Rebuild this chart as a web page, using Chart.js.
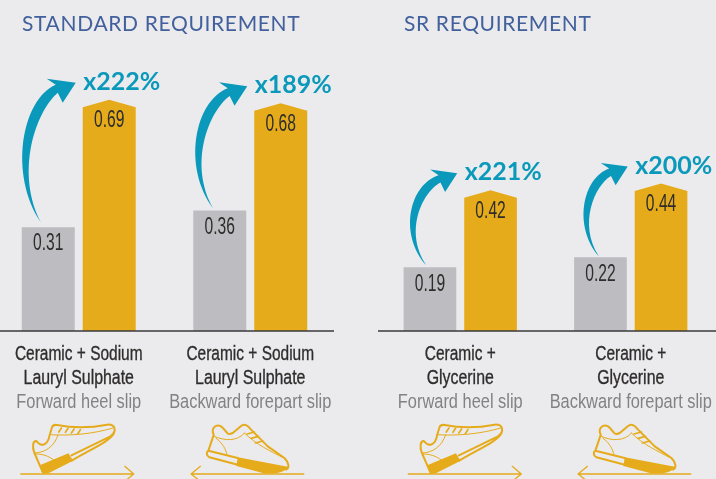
<!DOCTYPE html>
<html lang="en">
<head>
    <meta charset="UTF-8">
    <title>Slip requirement</title>
    <style>
        html, body { margin: 0; width: 716px; height: 479px; overflow: hidden; background: #ebebee; }
        canvas { position: absolute; top: 0; }
        #leftChart { left: -7px; }
        #rightChart { left: 375px; }
    </style>
</head>
<body>
    <canvas id="leftChart" width="343" height="479"></canvas>
    <canvas id="rightChart" width="341" height="479"></canvas>
<script src="https://cdn.jsdelivr.net/npm/chart.js@4/dist/chart.umd.min.js"></script>
<script>
    const standardCategories = [["Ceramic + Sodium", "Lauryl Sulphate"], ["Ceramic + Sodium", "Lauryl Sulphate"]];
    const srCategories = [["Ceramic +", "Glycerine"], ["Ceramic +", "Glycerine"]];
    const slipTypes = ["Forward heel slip", "Backward forepart slip"];

    const standardBefore = [0.31, 0.36];
    const standardAfter = [0.69, 0.68];
    const srBefore = [0.19, 0.22];
    const srAfter = [0.42, 0.44];

    const standardGain = ["x222%", "x189%"];
    const srGain = ["x221%", "x200%"];

    const GREY = "#bdbcc1";
    const GOLD = "#e5ab1a";
    const TEAL = "#0a99ba";

    function drawPeakBars(ctx, meta) {
        ctx.fillStyle = GOLD;
        meta.data.forEach(function(bar){
            const half = bar.width / 2;
            ctx.beginPath();
            ctx.moveTo(bar.x - half, bar.base);
            ctx.lineTo(bar.x - half, bar.y + 7.5);
            ctx.lineTo(bar.x, bar.y);
            ctx.lineTo(bar.x + half, bar.y + 7.5);
            ctx.lineTo(bar.x + half, bar.base);
            ctx.closePath();
            ctx.fill();
        });
    }

    // no condensed face installed, so squeeze Liberation Sans sideways
    function narrowText(ctx, text, x, y, size, squeeze, color, heavy) {
        ctx.save();
        ctx.translate(x, y);
        ctx.scale(squeeze, 1);
        ctx.font = size + 'px "Liberation Sans"';
        ctx.textAlign = "center";
        ctx.textBaseline = "middle";
        ctx.fillStyle = color;
        ctx.fillText(text, 0, 0);
        if (heavy) {
            ctx.strokeStyle = color;
            ctx.lineWidth = 0.35;
            ctx.strokeText(text, 0, 0);
        }
        ctx.restore();
    }

    // curved arrow, shape taken from the first one and stretched to fit
    function drawArrow(ctx, tx, ty, px, py) {
        const sx = (px - tx) / 34;
        const sy = (ty - py) / 139;
        const hs = 0.8 + 0.2 * sy;
        const X = function(v){ return tx + v * sx; };
        const Y = function(v){ return ty - v * sy; };
        ctx.fillStyle = TEAL;
        ctx.beginPath();
        ctx.moveTo(tx, ty);
        ctx.bezierCurveTo(X(-31), Y(47), X(-19), Y(122), px - 20 * hs, py + 2 * hs);
        ctx.lineTo(px - 29 * hs, py - 4 * hs);
        ctx.lineTo(px, py);
        ctx.lineTo(px - 13 * hs, py + 20 * hs);
        ctx.lineTo(px - 18 * hs, py + 10 * hs);
        ctx.bezierCurveTo(X(-5), Y(110), X(-25), Y(50), tx, ty);
        ctx.closePath();
        ctx.fill();
    }

    // shoes are traced in the zoomed crop, 3 units to a pixel
    function drawForwardShoe(ctx) {
        ctx.lineWidth = 4;
        ctx.beginPath();
        ctx.moveTo(3, 168); ctx.lineTo(342, 168);
        ctx.moveTo(315, 145); ctx.lineTo(342, 168); ctx.lineTo(315, 190);
        ctx.stroke();

        ctx.lineWidth = 6;
        ctx.beginPath();
        ctx.moveTo(68, 160);
        ctx.lineTo(44, 105);
        ctx.bezierCurveTo(36, 85, 40, 68, 50, 69);
        ctx.bezierCurveTo(62, 86, 84, 86, 90, 50);
        ctx.lineTo(97, 27);
        ctx.bezierCurveTo(100, 20, 106, 20, 112, 21);
        ctx.bezierCurveTo(160, 30, 220, 28, 262, 20);
        ctx.bezierCurveTo(288, 18, 292, 40, 272, 55);
        ctx.lineTo(155, 112);
        ctx.moveTo(283, 45);
        ctx.bezierCurveTo(270, 70, 220, 90, 156, 128);
        ctx.stroke();

        ctx.lineWidth = 3;
        ctx.beginPath();
        ctx.moveTo(44, 105);
        ctx.bezierCurveTo(75, 105, 105, 85, 115, 50);
        ctx.moveTo(90, 50);
        ctx.bezierCurveTo(150, 54, 220, 48, 280, 30);
        ctx.moveTo(48, 108);
        ctx.bezierCurveTo(75, 108, 95, 118, 108, 132);
        ctx.stroke();

        ctx.lineWidth = 5;
        ctx.beginPath();
        [[125, 30], [145, 31], [163, 33], [182, 35]].forEach(function(p){
            ctx.moveTo(p[0], p[1]); ctx.lineTo(p[0] - 8, p[1] + 12);
        });
        ctx.stroke();

        ctx.beginPath();
        ctx.moveTo(60, 142);
        ctx.lineTo(146, 106);
        ctx.lineTo(160, 128);
        ctx.lineTo(86, 166);
        ctx.lineTo(68, 168);
        ctx.closePath();
        ctx.fill();
    }

    function drawBackwardShoe(ctx) {
        ctx.lineWidth = 4;
        ctx.beginPath();
        ctx.moveTo(348, 168); ctx.lineTo(10, 168);
        ctx.moveTo(38, 145); ctx.lineTo(10, 168); ctx.lineTo(38, 190);
        ctx.stroke();

        ctx.lineWidth = 6;
        ctx.beginPath();
        ctx.moveTo(62, 98);
        ctx.lineTo(78, 50);
        ctx.bezierCurveTo(68, 30, 85, 18, 100, 25);
        ctx.bezierCurveTo(115, 35, 115, 55, 135, 45);
        ctx.lineTo(160, 24);
        ctx.bezierCurveTo(170, 15, 180, 22, 190, 35);
        ctx.lineTo(240, 85);
        ctx.lineTo(290, 120);
        ctx.bezierCurveTo(305, 135, 305, 150, 295, 155);
        ctx.moveTo(150, 140);
        ctx.lineTo(65, 118);
        ctx.bezierCurveTo(55, 113, 55, 102, 62, 98);
        ctx.lineTo(150, 120);
        ctx.stroke();

        ctx.lineWidth = 3;
        ctx.beginPath();
        ctx.moveTo(78, 54);
        ctx.bezierCurveTo(110, 70, 150, 70, 170, 45);
        ctx.moveTo(84, 60);
        ctx.bezierCurveTo(105, 75, 115, 95, 118, 112);
        ctx.moveTo(170, 45);
        ctx.bezierCurveTo(205, 80, 250, 100, 284, 118);
        ctx.stroke();

        ctx.lineWidth = 5;
        ctx.beginPath();
        [[178, 48], [190, 61], [203, 75]].forEach(function(p){
            ctx.moveTo(p[0], p[1]); ctx.lineTo(p[0] + 22, p[1] - 6);
        });
        ctx.stroke();

        ctx.beginPath();
        ctx.moveTo(150, 118);
        ctx.bezierCurveTo(200, 128, 250, 136, 300, 146);
        ctx.bezierCurveTo(296, 164, 250, 170, 225, 165);
        ctx.lineTo(146, 144);
        ctx.closePath();
        ctx.fill();
    }

    function drawShoe(ctx, cx, forward) {
        ctx.save();
        ctx.strokeStyle = GOLD;
        ctx.fillStyle = GOLD;
        ctx.lineJoin = "round";
        ctx.lineCap = "round";
        ctx.translate(cx - (forward ? 57.5 : 59.5), 418);
        ctx.scale(1 / 3, 1 / 3);
        if (forward) {
            drawForwardShoe(ctx);
        } else {
            drawBackwardShoe(ctx);
        }
        ctx.restore();
    }

    const decorPlugin = {
        id: "decor",
        beforeDatasetDraw(chart, args, opts) {
            if (args.index !== 1) return;
            drawPeakBars(chart.ctx, args.meta);
            return false;
        },
        afterDatasetsDraw(chart, args, opts) {
            const ctx = chart.ctx;
            const lower = chart.getDatasetMeta(0).data;
            const upper = chart.getDatasetMeta(1).data;
            const zero = chart.scales.y.getPixelForValue(0);

            ctx.save();
            ctx.strokeStyle = "#3a3a3c";
            ctx.lineWidth = 1.5;
            ctx.beginPath();
            ctx.moveTo(opts.axisFrom, zero);
            ctx.lineTo(opts.axisTo, zero);
            ctx.stroke();

            ctx.textBaseline = "middle";
            ctx.textAlign = "left";
            ctx.fillStyle = "#41609c";
            ctx.font = "400 21px Lato";
            ctx.letterSpacing = "0.65px";
            ctx.fillText(opts.title, opts.titleX, 24);
            ctx.letterSpacing = "0px";

            lower.forEach(function(bar, i){
                const top = upper[i];
                const left = top.x - top.width / 2;

                drawArrow(ctx, bar.x + opts.tailDx[i], bar.y - opts.tailDy[i], left - 7, top.y - 17);

                ctx.fillStyle = TEAL;
                ctx.textAlign = "left";
                ctx.textBaseline = "middle";
                ctx.font = "bold 25px Lato";
                ctx.fillText(opts.gains[i], left + 0.5, top.y - 18);

                narrowText(ctx, chart.data.datasets[0].data[i].toFixed(2), bar.x, bar.y + 17, 23, 0.68, "#2e2d2c");
                narrowText(ctx, chart.data.datasets[1].data[i].toFixed(2), top.x, top.y + 21, 23, 0.68, "#2e2d2c");

                const cx = chart.scales.x.getPixelForTick(i);
                narrowText(ctx, chart.data.labels[i][0], cx, 354, 20.5, 0.755, "#2e2d2c", true);
                narrowText(ctx, chart.data.labels[i][1], cx, 378, 20.5, 0.775, "#2e2d2c", true);
                narrowText(ctx, slipTypes[i], cx, 402, 20.5, 0.8, "#828285");

                drawShoe(ctx, cx + opts.shoeDx[i], i === 0);
            });
            ctx.restore();
        }
    };

    function makePanel(id, labels, before, after, decor) {
        return new Chart(document.getElementById(id), {
            type: "bar",
            plugins: [decorPlugin],
            data: {
                labels: labels,
                datasets: [
                    { data: before, backgroundColor: GREY },
                    { data: after, backgroundColor: GOLD }
                ]
            },
            options: {
                responsive: false,
                animation: false,
                categoryPercentage: 0.711,
                barPercentage: 0.869,
                layout: { padding: { top: 36.2 } },
                plugins: { legend: { display: false }, tooltip: { enabled: false }, decor: decor },
                scales: {
                    y: { display: false, min: 0, max: 0.88 },
                    x: {
                        grid: { display: false },
                        border: { display: false },
                        ticks: { display: false },
                        afterFit: function(scale){ scale.height = 148; }
                    }
                }
            }
        });
    }

    makePanel("leftChart", standardCategories, standardBefore, standardAfter, {
        title: "STANDARD REQUIREMENT", titleX: 29, gains: standardGain,
        axisFrom: 7, axisTo: 341, tailDx: [-7.5, -6.5], tailDy: [5, 2], shoeDx: [-1.5, -3]
    });
    makePanel("rightChart", srCategories, srBefore, srAfter, {
        title: "SR REQUIREMENT", titleX: 29, gains: srGain,
        axisFrom: 3, axisTo: 341, tailDx: [-3.5, -1.5], tailDy: [2, 1], shoeDx: [4.5, 3.5]
    });
</script>
</body>
</html>
